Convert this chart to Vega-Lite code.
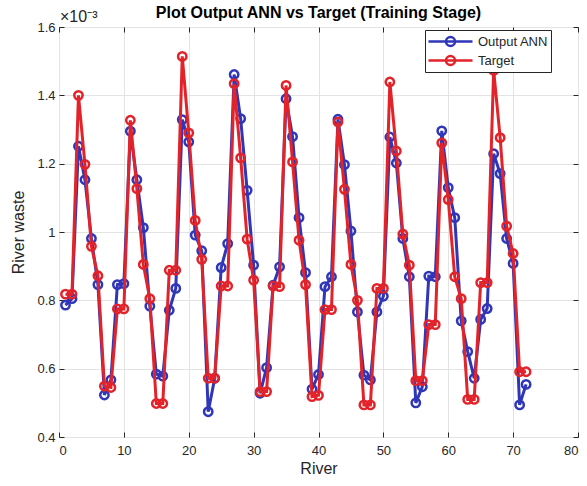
{
  "$schema": "https://vega.github.io/schema/vega-lite/v6.json",
  "width": 519,
  "height": 410,
  "autosize": {"type": "none"},
  "padding": {"left": 59, "top": 27, "right": 9, "bottom": 49},
  "background": "white",
  "title": {"text": "Plot Output ANN vs Target (Training Stage)", "fontSize": 16, "fontWeight": "bold", "font": "Liberation Sans", "color": "black", "offset": -10, "dy": 15, "anchor": "middle", "baseline": "alphabetic"},
  "config": {
    "font": "Liberation Sans",
    "view": {"stroke": "#262626", "strokeWidth": 1},
    "axis": {"gridColor": "#e3e3e3", "gridOpacity": 1, "domain": false, "tickColor": "#262626", "tickSize": -5, "labelFontSize": 13, "labelColor": "#262626", "titleFontSize": 16, "titleFontWeight": "normal", "titleColor": "#262626", "labelFont": "Liberation Sans", "titleFont": "Liberation Sans"}
  },
  "datasets": {
    "ann": [
      {"River": 1, "value": 0.786}, {"River": 2, "value": 0.805}, {"River": 3, "value": 1.251}, {"River": 4, "value": 1.153},
      {"River": 5, "value": 0.981}, {"River": 6, "value": 0.846}, {"River": 7, "value": 0.523}, {"River": 8, "value": 0.567},
      {"River": 9, "value": 0.846}, {"River": 10, "value": 0.849}, {"River": 11, "value": 1.295}, {"River": 12, "value": 1.153},
      {"River": 13, "value": 1.013}, {"River": 14, "value": 0.783}, {"River": 15, "value": 0.584}, {"River": 16, "value": 0.578},
      {"River": 17, "value": 0.771}, {"River": 18, "value": 0.835}, {"River": 19, "value": 1.329}, {"River": 20, "value": 1.264},
      {"River": 21, "value": 0.991}, {"River": 22, "value": 0.945}, {"River": 23, "value": 0.474}, {"River": 24, "value": 0.572},
      {"River": 25, "value": 0.896}, {"River": 26, "value": 0.966}, {"River": 27, "value": 1.461}, {"River": 28, "value": 1.332},
      {"River": 29, "value": 1.122}, {"River": 30, "value": 0.903}, {"River": 31, "value": 0.528}, {"River": 32, "value": 0.603},
      {"River": 33, "value": 0.844}, {"River": 34, "value": 0.898}, {"River": 35, "value": 1.39}, {"River": 36, "value": 1.279},
      {"River": 37, "value": 1.042}, {"River": 38, "value": 0.881}, {"River": 39, "value": 0.54}, {"River": 40, "value": 0.583},
      {"River": 41, "value": 0.84}, {"River": 42, "value": 0.869}, {"River": 43, "value": 1.33}, {"River": 44, "value": 1.197},
      {"River": 45, "value": 1.003}, {"River": 46, "value": 0.766}, {"River": 47, "value": 0.581}, {"River": 48, "value": 0.567},
      {"River": 49, "value": 0.766}, {"River": 50, "value": 0.812}, {"River": 51, "value": 1.278}, {"River": 52, "value": 1.202},
      {"River": 53, "value": 0.981}, {"River": 54, "value": 0.869}, {"River": 55, "value": 0.5}, {"River": 56, "value": 0.547},
      {"River": 57, "value": 0.871}, {"River": 58, "value": 0.869}, {"River": 59, "value": 1.296}, {"River": 60, "value": 1.13},
      {"River": 61, "value": 1.042}, {"River": 62, "value": 0.74}, {"River": 63, "value": 0.65}, {"River": 64, "value": 0.572},
      {"River": 65, "value": 0.744}, {"River": 66, "value": 0.776}, {"River": 67, "value": 1.229}, {"River": 68, "value": 1.171},
      {"River": 69, "value": 0.981}, {"River": 70, "value": 0.908}, {"River": 71, "value": 0.494}, {"River": 72, "value": 0.554}
    ],
    "target": [
      {"River": 1, "value": 0.818}, {"River": 2, "value": 0.818}, {"River": 3, "value": 1.4}, {"River": 4, "value": 1.198},
      {"River": 5, "value": 0.958}, {"River": 6, "value": 0.872}, {"River": 7, "value": 0.549}, {"River": 8, "value": 0.545},
      {"River": 9, "value": 0.775}, {"River": 10, "value": 0.775}, {"River": 11, "value": 1.327}, {"River": 12, "value": 1.127},
      {"River": 13, "value": 0.905}, {"River": 14, "value": 0.805}, {"River": 15, "value": 0.498}, {"River": 16, "value": 0.498},
      {"River": 17, "value": 0.888}, {"River": 18, "value": 0.888}, {"River": 19, "value": 1.514}, {"River": 20, "value": 1.29},
      {"River": 21, "value": 1.034}, {"River": 22, "value": 0.92}, {"River": 23, "value": 0.572}, {"River": 24, "value": 0.572},
      {"River": 25, "value": 0.842}, {"River": 26, "value": 0.842}, {"River": 27, "value": 1.434}, {"River": 28, "value": 1.217},
      {"River": 29, "value": 0.979}, {"River": 30, "value": 0.859}, {"River": 31, "value": 0.533}, {"River": 32, "value": 0.533},
      {"River": 33, "value": 0.842}, {"River": 34, "value": 0.84}, {"River": 35, "value": 1.429}, {"River": 36, "value": 1.205},
      {"River": 37, "value": 0.976}, {"River": 38, "value": 0.846}, {"River": 39, "value": 0.518}, {"River": 40, "value": 0.522},
      {"River": 41, "value": 0.773}, {"River": 42, "value": 0.773}, {"River": 43, "value": 1.322}, {"River": 44, "value": 1.125},
      {"River": 45, "value": 0.905}, {"River": 46, "value": 0.8}, {"River": 47, "value": 0.494}, {"River": 48, "value": 0.494},
      {"River": 49, "value": 0.835}, {"River": 50, "value": 0.835}, {"River": 51, "value": 1.439}, {"River": 52, "value": 1.237},
      {"River": 53, "value": 0.994}, {"River": 54, "value": 0.903}, {"River": 55, "value": 0.565}, {"River": 56, "value": 0.565},
      {"River": 57, "value": 0.729}, {"River": 58, "value": 0.729}, {"River": 59, "value": 1.261}, {"River": 60, "value": 1.095},
      {"River": 61, "value": 0.869}, {"River": 62, "value": 0.805}, {"River": 63, "value": 0.51}, {"River": 64, "value": 0.51},
      {"River": 65, "value": 0.852}, {"River": 66, "value": 0.852}, {"River": 67, "value": 1.473}, {"River": 68, "value": 1.276},
      {"River": 69, "value": 1.017}, {"River": 70, "value": 0.937}, {"River": 71, "value": 0.591}, {"River": 72, "value": 0.591}
    ]
  },
  "layer": [
    {
      "data": {"name": "ann"},
      "mark": {"type": "line", "strokeWidth": 3, "point": {"filled": false, "size": 70, "strokeWidth": 2.5}},
      "encoding": {
        "x": {"field": "River", "type": "quantitative", "scale": {"domain": [0, 80], "nice": false, "zero": false},
              "axis": {"orient": "bottom", "values": [0, 10, 20, 30, 40, 50, 60, 70, 80], "title": "River", "labelPadding": 12, "titlePadding": 3, "grid": true}},
        "y": {"field": "value", "type": "quantitative", "scale": {"domain": [0.4, 1.6], "nice": false, "zero": false},
              "axis": {"orient": "left", "values": [0.4, 0.6, 0.8, 1, 1.2, 1.4, 1.6], "format": ".1~f", "title": "River waste", "labelPadding": 9, "titlePadding": 10, "grid": true}},
        "color": {"datum": "Output ANN", "type": "nominal", "scale": {"domain": ["Output ANN", "Target"], "range": ["#3036b8", "#e2232a"]},
                  "legend": {"title": null, "orient": "none", "legendX": 366, "legendY": 3, "strokeColor": "#262626", "fillColor": "white", "padding": 2, "labelFontSize": 13, "labelColor": "#262626", "symbolType": "M-1,0H4.5M2.31,0A0.56,0.56 0 1,1 1.19,0A0.56,0.56 0 1,1 2.31,0", "symbolSize": 256, "symbolStrokeWidth": 2.5, "symbolFillColor": "transparent", "labelOffset": 32, "rowPadding": 0}}
      }
    },
    {
      "data": {"name": "target"},
      "mark": {"type": "line", "strokeWidth": 3, "point": {"filled": false, "size": 70, "strokeWidth": 2.5}},
      "encoding": {
        "x": {"field": "River", "type": "quantitative", "axis": null},
        "y": {"field": "value", "type": "quantitative", "axis": null},
        "color": {"datum": "Target", "type": "nominal"}
      }
    },
    {
      "data": {"values": [{"label": "×10⁻³"}]},
      "mark": {"type": "text", "align": "left", "baseline": "alphabetic", "dy": -5, "dx": 1, "fontSize": 16, "font": "Liberation Sans", "color": "#262626"},
      "encoding": {
        "x": {"datum": 0, "type": "quantitative", "axis": {"orient": "top", "labels": false, "grid": false, "title": null, "values": [0, 10, 20, 30, 40, 50, 60, 70, 80]}},
        "y": {"datum": 1.6, "type": "quantitative", "axis": {"orient": "right", "labels": false, "grid": false, "title": null, "values": [0.4, 0.6, 0.8, 1, 1.2, 1.4, 1.6]}},
        "text": {"field": "label"}
      }
    }
  ],
  "resolve": {"axis": {"x": "independent", "y": "independent"}}
}
